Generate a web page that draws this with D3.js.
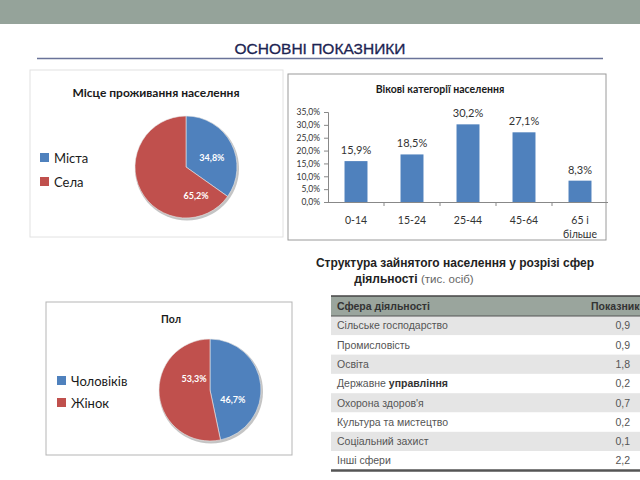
<!DOCTYPE html>
<html><head><meta charset="utf-8">
<script src="https://cdn.jsdelivr.net/npm/d3@7"></script>
<style>body{margin:0;background:#fff}svg{display:block}</style>
</head><body>
<svg id="c" width="640" height="480"></svg>
<script>
// ---- data ----
const residenceLabels = ["Міста", "Села"];
const residenceValues = [34.8, 65.2];
const ageCategories = ["0-14", "15-24", "25-44", "45-64", "65 і більше"];
const ageValues = [15.9, 18.5, 30.2, 27.1, 8.3];
const ageTicks = [0, 5, 10, 15, 20, 25, 30, 35];
const sexLabels = ["Чоловіків", "Жінок"];
const sexValues = [46.7, 53.3];
const sectors = ["Сільське господарство", "Промисловість", "Освіта", "Державне управління", "Охорона здоров'я", "Культура та мистецтво", "Соціальний захист", "Інші сфери"];
const sectorValues = ["0,9", "0,9", "1,8", "0,2", "0,7", "0,2", "0,1", "2,2"];

const svg = d3.select("#c");
const BLUE = "#4f81bd", RED = "#c0504d";
const chartFont = "Lato, 'Open Sans', sans-serif";
const fmt = v => d3.format(".1f")(v).replace(".", ",") + "%";

// top band
svg.append("rect").attr("x",0).attr("y",0).attr("width",640).attr("height",24).attr("fill","#95a39a");
svg.append("text").attr("x",320).attr("y",54).attr("text-anchor","middle")
  .attr("font-family","'Liberation Sans', Arial, sans-serif").attr("font-size",15.5)
  .attr("fill","#1c2452").attr("stroke","#1c2452").attr("stroke-width",0.3).text("ОСНОВНІ ПОКАЗНИКИ");
svg.append("line").attr("x1",37).attr("x2",603).attr("y1",58.5).attr("y2",58.5).attr("stroke","#6a7399").attr("stroke-width",1.5);

// ---- pie helper ----
function pieChart(opt){
  const g = svg.append("g");
  g.append("rect").attr("x",opt.box[0]).attr("y",opt.box[1]).attr("width",opt.box[2]).attr("height",opt.box[3])
    .attr("fill","#fff").attr("stroke",opt.boxStroke);
  g.append("text").attr("x",opt.titleX).attr("y",opt.titleY).attr("text-anchor","middle")
    .attr("font-family",chartFont).attr("font-weight","bold").attr("font-size",opt.titleSize).attr("fill","#1a1a1a").text(opt.title);
  const pie = d3.pie().sort(null).value(d=>d)(opt.values);
  const arc = d3.arc().innerRadius(0).outerRadius(opt.r);
  const lab = d3.arc().innerRadius(opt.r*0.55).outerRadius(opt.r*0.55);
  const pg = g.append("g").attr("transform",`translate(${opt.cx},${opt.cy})`);
  pg.append("circle").attr("r",opt.r+1).attr("fill","#555").attr("opacity",0.35).attr("transform","translate(1,1.5)");
  pg.selectAll("path").data(pie).join("path").attr("d",arc).attr("fill",(d,i)=>[BLUE,RED][i])
    .attr("stroke","#e8e8e8").attr("stroke-width",0.6);
  pg.selectAll("text").data(pie).join("text")
    .attr("transform",(d,i)=>{const c=lab.centroid(d);return `translate(${c[0]+opt.labOff[i][0]},${c[1]+opt.labOff[i][1]})`;})
    .attr("text-anchor","middle").attr("dy","0.35em").attr("font-family",chartFont).attr("font-weight","bold")
    .attr("font-size",9).attr("fill","#fff").text(d=>fmt(d.data));
  const lg = g.selectAll("g.lg").data(opt.labels).join("g").attr("transform",(d,i)=>`translate(${opt.legX},${opt.legY+i*opt.legStep})`);
  lg.append("rect").attr("x",0).attr("y",-5).attr("width",9).attr("height",9).attr("fill",(d,i)=>[BLUE,RED][i]);
  lg.append("text").attr("x",14).attr("y",0).attr("dy","0.35em").attr("font-family",chartFont)
    .attr("font-size",13).attr("fill","#1a1a1a").text(d=>d);
}

pieChart({box:[30,70,253,167], boxStroke:"#e2e2e2", title:"Місце проживання населення", titleX:156, titleY:97, titleSize:12,
  values:residenceValues, labels:residenceLabels, cx:186, cy:167, r:51, labOff:[[1,4],[35,16]],
  legX:40, legY:158, legStep:24});

pieChart({box:[46,302,246,153], boxStroke:"#b5b5b5", title:"Пол", titleX:171, titleY:323, titleSize:10.5,
  values:sexValues, labels:sexLabels, cx:210, cy:390, r:51, labOff:[[-5,13],[12,-14]],
  legX:57, legY:381, legStep:22});

// ---- bar chart ----
{
  const g = svg.append("g");
  g.append("rect").attr("x",288).attr("y",74).attr("width",318).attr("height",166).attr("fill","#fff").attr("stroke","#9a9a9a");
  g.append("text").attr("x",440).attr("y",93).attr("text-anchor","middle").attr("font-family",chartFont)
    .attr("font-weight","bold").attr("font-size",10.5).attr("fill","#1a1a1a").text("Вікові категорії населення");
  const x = d3.scaleBand().domain(ageCategories).range([328,608]).paddingInner(0.59).paddingOuter(0.295);
  const y = d3.scaleLinear().domain([0,35]).range([202,112]);
  const ya = g.append("g").attr("transform","translate(328,0)")
    .call(d3.axisLeft(y).tickValues(ageTicks).tickSize(4).tickFormat(fmt));
  ya.select(".domain").attr("stroke","#888");
  ya.selectAll(".tick line").attr("stroke","#888");
  ya.selectAll("text").attr("font-family",chartFont).attr("font-size",8.5).attr("fill","#333").attr("dx",-1);
  g.selectAll("rect.bar").data(ageValues).join("rect").attr("class","bar")
    .attr("x",(d,i)=>x(ageCategories[i])).attr("width",x.bandwidth())
    .attr("y",d=>y(d)).attr("height",d=>y(0)-y(d)).attr("fill",BLUE);
  g.selectAll("text.val").data(ageValues).join("text").attr("class","val")
    .attr("x",(d,i)=>x(ageCategories[i])+x.bandwidth()/2).attr("y",d=>y(d)-7)
    .attr("text-anchor","middle").attr("font-family",chartFont).attr("font-size",11).attr("fill","#333").text(fmt);
  // x axis
  g.append("line").attr("x1",328).attr("x2",608).attr("y1",202.5).attr("y2",202.5).attr("stroke","#888");
  const step = x.step();
  ageCategories.forEach((c,i)=>{
    const tx = 328 + step*i;
    if(i>0) g.append("line").attr("x1",tx).attr("x2",tx).attr("y1",202).attr("y2",206).attr("stroke","#888");
    const words = c.split(" ");
    const lines = words.length>2 ? [words.slice(0,2).join(" "), words.slice(2).join(" ")] : [c];
    lines.forEach((l,j)=>{
      g.append("text").attr("x",x(c)+x.bandwidth()/2).attr("y",224+j*14).attr("text-anchor","middle")
        .attr("font-family",chartFont).attr("font-size",10.5).attr("fill","#333").text(l);
    });
  });
}

// ---- table ----
{
  const g = svg.append("g");
  const tf = "'Liberation Sans', Arial, sans-serif";
  g.append("text").attr("x",455).attr("y",267).attr("text-anchor","middle").attr("font-family",tf)
    .attr("font-size",12).attr("font-weight","bold").attr("fill","#222").text("Структура зайнятого населення у розрізі сфер");
  const t2 = g.append("text").attr("x",414).attr("y",283).attr("text-anchor","middle").attr("font-family",tf)
    .attr("font-size",12).attr("fill","#222");
  t2.append("tspan").attr("font-weight","bold").text("діяльності ");
  t2.append("tspan").attr("fill","#666").attr("font-size",11.5).text("(тис. осіб)");

  const left = 331, right = 640, top = 296, hh = 20, rh = 19.3;
  const rows = d3.range(sectors.length);
  const ry = d3.scaleLinear().domain([0,1]).range([top+hh, top+hh+rh]);
  g.append("rect").attr("x",left).attr("y",top).attr("width",right-left).attr("height",hh).attr("fill","#9aa59d");
  g.selectAll("rect.row").data(rows).join("rect").attr("class","row")
    .attr("x",left).attr("y",i=>ry(i)).attr("width",right-left).attr("height",rh)
    .attr("fill",i=>i%2===0?"#e5e5e5":"#ffffff");
  g.append("line").attr("x1",left).attr("x2",right).attr("y1",top).attr("y2",top).attr("stroke","#444").attr("stroke-width",1.5);
  g.append("line").attr("x1",left).attr("x2",right).attr("y1",top+hh).attr("y2",top+hh).attr("stroke","#555").attr("stroke-width",1);
  g.append("line").attr("x1",left).attr("x2",right).attr("y1",ry(sectors.length)).attr("y2",ry(sectors.length)).attr("stroke","#555").attr("stroke-width",2.5);
  g.append("text").attr("x",337).attr("y",top+hh/2).attr("dy","0.35em").attr("font-family",tf).attr("font-size",10.5)
    .attr("font-weight","bold").attr("fill","#333").text("Сфера діяльності");
  g.append("text").attr("x",591).attr("y",top+hh/2).attr("dy","0.35em").attr("font-family",tf).attr("font-size",10.5)
    .attr("font-weight","bold").attr("fill","#333").text("Показники");
  sectors.forEach((s,i)=>{
    const t = g.append("text").attr("x",337).attr("y",ry(i)+rh/2).attr("dy","0.35em").attr("font-family",tf)
      .attr("font-size",10.5).attr("fill","#555");
    if(s==="Державне управління"){
      t.append("tspan").text("Державне ");
      t.append("tspan").attr("font-weight","bold").attr("fill","#333").text("управління");
    } else t.text(s);
    g.append("text").attr("x",630).attr("y",ry(i)+rh/2).attr("dy","0.35em").attr("text-anchor","end")
      .attr("font-family",tf).attr("font-size",10.5).attr("fill","#555").text(sectorValues[i]);
  });
}
</script>
</body></html>
